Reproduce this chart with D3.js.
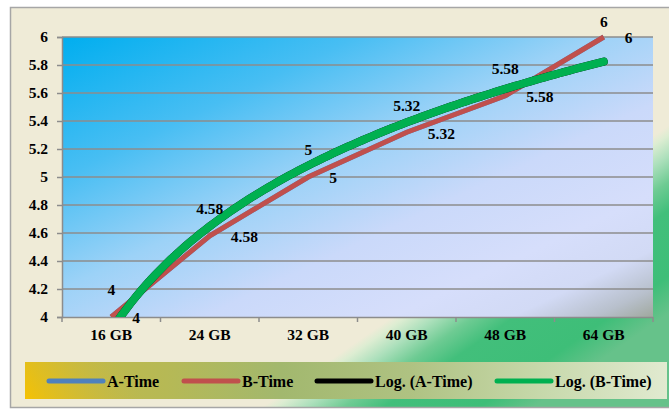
<!DOCTYPE html>
<html>
<head>
<meta charset="utf-8">
<script src="https://cdn.jsdelivr.net/npm/d3@7"></script>
<style>
  html, body { margin: 0; padding: 0; background: #ffffff; }
  svg { display: block; }
  svg text { font-family: "Liberation Serif", "Times New Roman", serif; font-weight: bold; fill: #000; }
</style>
</head>
<body>
<svg id="chart" width="669" height="410"></svg>
<script>
// ---------- data ----------
const categories = ["16 GB", "24 GB", "32 GB", "40 GB", "48 GB", "64 GB"];
const aTime = [4, 4.58, 5, 5.32, 5.58, 6];
const bTime = [4, 4.58, 5, 5.32, 5.58, 6];
const yTicks = [4, 4.2, 4.4, 4.6, 4.8, 5, 5.2, 5.4, 5.6, 5.8, 6];
const legendNames = ["A-Time", "B-Time", "Log. (A-Time)", "Log. (B-Time)"];
const seriesColors = ["#4F81BD", "#C0504D", "#000000", "#00B050"];

const FONT = '"Liberation Serif", "Times New Roman", serif';
const FS = 15.5;

// ---------- layout ----------
const svg = d3.select("#chart");
const plot = { left: 62, top: 37, right: 653, bottom: 317 };

const defs = svg.append("defs");

// frame background gradient (beige with green sweep bottom-right)
const fg = defs.append("linearGradient").attr("id", "frameGrad")
  .attr("gradientUnits", "userSpaceOnUse")
  .attr("x1", 385).attr("y1", 322).attr("x2", 473).attr("y2", 449);
[[0, "#EFEBD7"], [0.05, "#DDEDD2"], [0.16, "#ADE0BC"], [0.3, "#6ECB93"], [0.45, "#42BF7B"],
 [0.8, "#3EBE78"], [1, "#66C28A"]].forEach(s => fg.append("stop").attr("offset", s[0]).attr("stop-color", s[1]));

// plot background
const pg = defs.append("linearGradient").attr("id", "plotGrad")
  .attr("x1", 0).attr("y1", 0).attr("x2", 1).attr("y2", 1);
[[0, "#00AEEF"], [0.25, "#48BEF3"], [0.45, "#9CD2F7"], [0.62, "#CAD9FA"], [0.78, "#D6DEFB"],
 [0.88, "#D2DAF5"], [0.95, "#B8C0CC"], [1, "#A0A89E"]].forEach(s => pg.append("stop").attr("offset", s[0]).attr("stop-color", s[1]));

// legend backgrounds
const lg = defs.append("linearGradient").attr("id", "legGrad")
  .attr("x1", 0).attr("y1", 0).attr("x2", 1).attr("y2", 0);
[[0, "#C6B944"], [0.22, "#B6B955"], [0.4, "#A2B86E"], [0.6, "#AFC282"], [0.8, "#C6D8AA"], [1, "#E1EAD0"]]
  .forEach(s => lg.append("stop").attr("offset", s[0]).attr("stop-color", s[1]));
const lg2 = defs.append("linearGradient").attr("id", "legGold")
  .attr("gradientUnits", "userSpaceOnUse")
  .attr("x1", 25).attr("y1", 402).attr("x2", 110).attr("y2", 345);
[[0, "#F7C200", 1], [0.45, "#E0BE20", 0.6], [1, "#C6B944", 0]]
  .forEach(s => lg2.append("stop").attr("offset", s[0]).attr("stop-color", s[1]).attr("stop-opacity", s[2]));

defs.append("clipPath").attr("id", "plotClip").append("rect")
  .attr("x", plot.left).attr("y", plot.top - 6)
  .attr("width", plot.right - plot.left).attr("height", plot.bottom - plot.top + 6);

// frame
svg.append("rect").attr("x", 10.5).attr("y", 7.5).attr("width", 670).attr("height", 400)
  .attr("fill", "url(#frameGrad)").attr("stroke", "#A6A6A6").attr("stroke-width", 1.5);

// ---------- scales ----------
const x = d3.scaleBand().domain(categories).range([plot.left, plot.right]);
const y = d3.scaleLinear().domain([4, 6]).range([plot.bottom, plot.top]);
const cx = c => x(c) + x.bandwidth() / 2;
const xIdx = d3.scaleLinear().domain([1, categories.length])
  .range([cx(categories[0]), cx(categories[categories.length - 1])]);

// plot area
svg.append("rect").attr("x", plot.left).attr("y", plot.top)
  .attr("width", plot.right - plot.left).attr("height", plot.bottom - plot.top)
  .attr("fill", "url(#plotGrad)");

// gridlines
svg.append("g").selectAll("line").data(yTicks.filter(d => d > 4)).join("line")
  .attr("x1", plot.left).attr("x2", plot.right)
  .attr("y1", d => y(d)).attr("y2", d => y(d))
  .attr("stroke", "#8C8C8C").attr("stroke-width", 1.5);

// y axis
const yAxis = svg.append("g").attr("transform", `translate(${plot.left},0)`)
  .call(d3.axisLeft(y).tickValues(yTicks).tickSize(5).tickPadding(9).tickFormat(d3.format("~g")));
yAxis.select(".domain").attr("stroke", "#8C8C8C").attr("stroke-width", 1.5);
yAxis.selectAll(".tick line").attr("stroke", "#8C8C8C").attr("stroke-width", 1.5);
yAxis.selectAll("text").attr("font-size", FS).style("font-family", FONT).style("font-weight", "bold").attr("fill", "#000");

// x axis
const xAxis = svg.append("g").attr("transform", `translate(0,${plot.bottom})`)
  .call(d3.axisBottom(x).tickSize(0).tickPadding(12));
xAxis.select(".domain").attr("stroke", "#8C8C8C").attr("stroke-width", 1.5);
xAxis.selectAll("text").attr("font-size", FS).style("font-family", FONT).style("font-weight", "bold").attr("fill", "#000");
const boundaries = categories.map(c => x(c)).concat([x.range()[1]]);
xAxis.append("g").selectAll("line").data(boundaries).join("line")
  .attr("x1", d => d).attr("x2", d => d).attr("y1", 0).attr("y2", 5)
  .attr("stroke", "#8C8C8C").attr("stroke-width", 1.5);

// ---------- series ----------
const g = svg.append("g").attr("clip-path", "url(#plotClip)");
const line = d3.line().x((d, i) => cx(categories[i])).y(d => y(d));

g.append("path").datum(aTime).attr("d", line).attr("fill", "none")
  .attr("stroke", seriesColors[0]).attr("stroke-width", 5);
g.append("path").datum(bTime).attr("d", line).attr("fill", "none")
  .attr("stroke", seriesColors[1]).attr("stroke-width", 5);

// logarithmic trend lines (least squares fit of value vs ln(index))
function logFit(vals) {
  const xs = vals.map((_, i) => Math.log(i + 1));
  const mx = d3.mean(xs), my = d3.mean(vals);
  let sxy = 0, sxx = 0;
  xs.forEach((xv, i) => { sxy += (xv - mx) * (vals[i] - my); sxx += (xv - mx) * (xv - mx); });
  const a = sxy / sxx, b = my - a * mx;
  return t => a * Math.log(t) + b;
}
const samples = d3.range(1, categories.length + 0.001, 0.05);
const trendLine = d3.line().x(d => xIdx(d[0])).y(d => y(d[1]));
[aTime, bTime].forEach((vals, k) => {
  const f = logFit(vals);
  const pts = samples.map(t => [t, f(t)]);
  g.append("path").datum(pts).attr("d", trendLine).attr("fill", "none")
    .attr("stroke", seriesColors[2 + k]).attr("stroke-width", 8).attr("stroke-linecap", "round");
});

// ---------- data labels ----------
const fmt = d3.format("~g");
svg.append("g").selectAll("text").data(aTime).join("text")
  .attr("x", (d, i) => cx(categories[i]))
  .attr("y", d => Math.max(22, y(d) - 27))
  .attr("dy", "0.35em").attr("text-anchor", "middle").attr("font-size", FS)
  .style("font-family", FONT)
  .text(d => fmt(d));
svg.append("g").selectAll("text").data(bTime).join("text")
  .attr("x", (d, i) => cx(categories[i]) + 21)
  .attr("y", d => y(d) + 1)
  .attr("dy", "0.35em").attr("text-anchor", "start").attr("font-size", FS)
  .style("font-family", FONT)
  .text(d => fmt(d));

// ---------- legend ----------
const leg = svg.append("g");
leg.append("rect").attr("x", 25).attr("y", 362).attr("width", 642).attr("height", 37).attr("fill", "url(#legGrad)");
leg.append("rect").attr("x", 25).attr("y", 362).attr("width", 642).attr("height", 37).attr("fill", "url(#legGold)");
const legX = [49, 184, 317, 497];
legendNames.forEach((name, i) => {
  leg.append("line").attr("x1", legX[i]).attr("x2", legX[i] + 54).attr("y1", 381).attr("y2", 381)
    .attr("stroke", seriesColors[i]).attr("stroke-width", 5).attr("stroke-linecap", "round");
  leg.append("text").attr("x", legX[i] + 58).attr("y", 381).attr("dy", "0.35em")
    .attr("font-size", 16).style("font-family", FONT).text(name);
});
</script>
</body>
</html>
